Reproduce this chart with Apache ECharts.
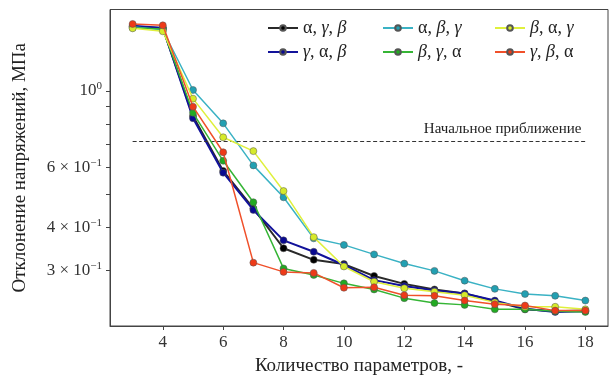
<!DOCTYPE html>
<html>
<head>
<meta charset="utf-8">
<style>
  html, body { margin: 0; padding: 0; background: #fff; }
  #chart { width: 611px; height: 383px; }
</style>
<script src="https://cdn.jsdelivr.net/npm/echarts@6/dist/echarts.min.js"></script>
</head>
<body>
<div id="chart"></div>
<script>
// Количество параметров (ось X)
const nParams = [3, 4, 5, 6, 7, 8, 9, 10, 11, 12, 13, 14, 15, 16, 17, 18];

// Отклонение напряжений, МПа — по каждой последовательности
const agb = [1.54, 1.527, 0.845, 0.585, 0.455, 0.348, 0.322, 0.313, 0.289, 0.274, 0.264, 0.257, 0.244, 0.231, 0.228, 0.229];
const gab = [1.55, 1.527, 0.833, 0.578, 0.450, 0.367, 0.340, 0.311, 0.281, 0.270, 0.262, 0.257, 0.245, 0.232, 0.227, 0.228];
const abg = [1.54, 1.506, 1.007, 0.805, 0.607, 0.490, 0.372, 0.356, 0.334, 0.314, 0.299, 0.280, 0.265, 0.256, 0.253, 0.245];
const bga = [1.53, 1.516, 0.864, 0.626, 0.474, 0.304, 0.291, 0.275, 0.264, 0.249, 0.241, 0.238, 0.231, 0.231, 0.228, 0.227];
const bag = [1.523, 1.493, 0.950, 0.733, 0.668, 0.511, 0.375, 0.308, 0.278, 0.266, 0.260, 0.254, 0.242, 0.235, 0.235, 0.231];
const gba = [1.568, 1.554, 0.900, 0.663, 0.316, 0.297, 0.295, 0.267, 0.268, 0.254, 0.253, 0.245, 0.239, 0.237, 0.229, 0.229];

// Начальное приближение
const initialGuess = 0.715;

// Деления оси Y (логарифмическая шкала)
const yTicks = [0.3, 0.4, 0.5, 0.6, 0.7, 0.8, 0.9, 1.0];
const yLabels = [0.3, 0.4, 0.6, 1.0];
const xTicks = [4, 6, 8, 10, 12, 14, 16, 18];

const FONT = 'Liberation Serif';

const seriesDefs = [
    { name: 'α, γ, β', values: agb, line: '#2a2a2a', fill: '#000000', width: 2 },
    { name: 'γ, α, β', values: gab, line: '#12129a', fill: '#0a0a90', width: 2 },
    { name: 'α, β, γ', values: abg, line: '#3ab2c4', fill: '#22a0b2', width: 1.5 },
    { name: 'β, γ, α', values: bga, line: '#35b535', fill: '#22aa22', width: 1.5 },
    { name: 'β, α, γ', values: bag, line: '#dff03c', fill: '#d6ea2a', width: 1.5 },
    { name: 'γ, β, α', values: gba, line: '#f0502a', fill: '#ee3a18', width: 1.5 }
];

const lg = v => Math.log10(v);

const series = seriesDefs.map((s, i) => {
    const item = {
        name: s.name,
        type: 'line',
        data: s.values.map((v, k) => [nParams[k], lg(v)]),
        symbol: 'circle',
        symbolSize: 7,
        lineStyle: { color: s.line, width: s.width },
        itemStyle: { color: s.fill, borderColor: '#555', borderWidth: 0.5 },
        emphasis: { disabled: true },
        animation: false,
        z: 2 + i
    };
    if (i === 0) {
        item.markLine = {
            silent: true,
            symbol: 'none',
            lineStyle: { color: '#333', type: [4, 2.5], width: 1.2 },
            label: {
                show: true,
                position: 'insideEndTop',
                formatter: 'Начальное приближение',
                fontFamily: FONT,
                fontSize: 15,
                color: '#222',
                distance: 4
            },
            data: [[{ coord: [nParams[0], lg(initialGuess)] }, { coord: [nParams[nParams.length - 1], lg(initialGuess)] }]]
        };
    }
    return item;
});

// Греческие буквы γ и β курсивом
function legendFmt(name) {
    return name.split('').map(ch => (ch === 'γ' || ch === 'β') ? '{i|' + ch + '}' : '{n|' + ch + '}').join('');
}

const legendText = {
    fontFamily: FONT,
    fontSize: 18,
    color: '#222',
    rich: {
        n: { fontFamily: FONT, fontSize: 18, color: '#222' },
        i: { fontFamily: FONT, fontSize: 18, fontStyle: 'italic', color: '#222' }
    }
};

function makeLegend(names, left) {
    return {
        data: names,
        orient: 'vertical',
        left: left,
        top: 14,
        itemWidth: 30,
        itemHeight: 7,
        itemGap: 6,
        formatter: legendFmt,
        textStyle: legendText,
        selectedMode: false
    };
}

const chart = echarts.init(document.getElementById('chart'));

const option = {
    backgroundColor: '#fff',
    animation: false,
    grid: {
        left: 110,
        right: 3,
        top: 9.5,
        bottom: 57,
        show: true,
        borderColor: '#444',
        borderWidth: 1
    },
    legend: [
        makeLegend(['α, γ, β', 'γ, α, β'], 262),
        makeLegend(['α, β, γ', 'β, γ, α'], 377),
        makeLegend(['β, α, γ', 'γ, β, α'], 489)
    ],
    xAxis: {
        type: 'value',
        min: 2.25,
        max: 18.75,
        name: 'Количество параметров, -',
        nameLocation: 'middle',
        nameGap: 31,
        nameTextStyle: { fontFamily: FONT, fontSize: 19, color: '#222' },
        axisLine: { onZero: false, lineStyle: { color: '#444', width: 1 } },
        axisTick: { show: true, customValues: xTicks, length: 4, lineStyle: { color: '#444' } },
        axisLabel: { customValues: xTicks, fontFamily: FONT, fontSize: 17, color: '#333', margin: 8 },
        splitLine: { show: false }
    },
    yAxis: {
        type: 'value',
        min: -0.685,
        max: 0.2376,
        name: 'Отклонение напряжений, МПа',
        nameLocation: 'middle',
        nameGap: 80,
        nameTextStyle: { fontFamily: FONT, fontSize: 19, color: '#222' },
        axisLine: { show: true, onZero: false, lineStyle: { color: '#444', width: 1 } },
        axisTick: { show: true, customValues: yTicks.map(lg), length: 4, lineStyle: { color: '#444' } },
        axisLabel: {
            customValues: yLabels.map(lg),
            margin: 8,
            formatter: function (val) {
                const v = Math.pow(10, val);
                if (Math.abs(v - 1) < 1e-6) return '{m|10}{s|0}';
                return '{m|' + Math.round(v * 10) + ' × 10}{s|−1}';
            },
            rich: {
                m: { fontFamily: FONT, fontSize: 17, color: '#333' },
                s: { fontFamily: FONT, fontSize: 11, color: '#333', padding: [0, 0, 9, 0] }
            }
        },
        splitLine: { show: false }
    },
    series: series
};

chart.setOption(option);
</script>
</body>
</html>
